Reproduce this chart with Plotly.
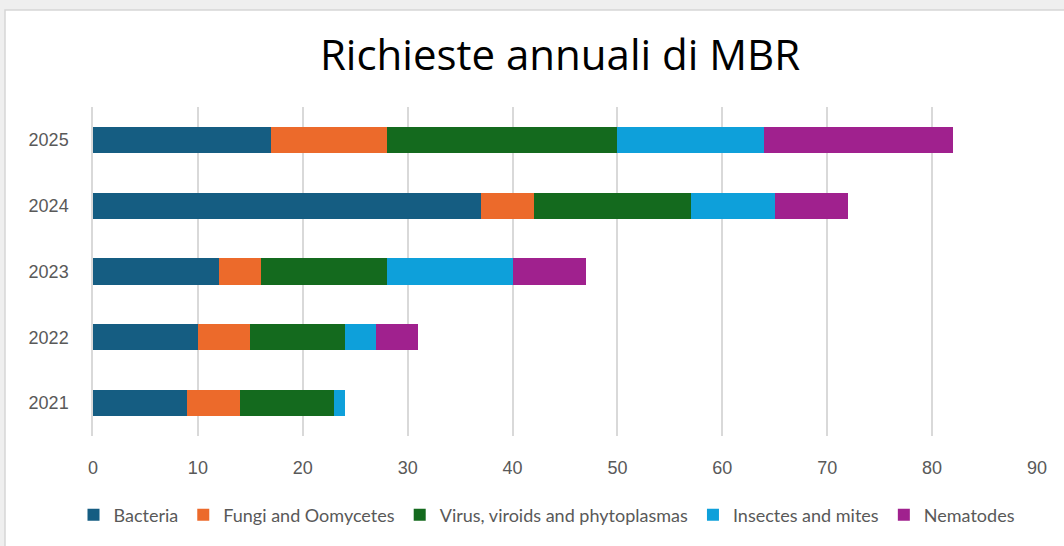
import plotly.graph_objects as go

years = ["2021", "2022", "2023", "2024", "2025"]
bacteria = [9, 10, 12, 37, 17]
fungi = [5, 5, 4, 5, 11]
virus = [9, 9, 12, 15, 22]
insects = [1, 3, 12, 8, 14]
nematodes = [0, 4, 7, 7, 18]

series = [
    ("Bacteria", bacteria, "#155d82"),
    ("Fungi and Oomycetes", fungi, "#ec6a2b"),
    ("Virus, viroids and phytoplasmas", virus, "#146a1e"),
    ("Insectes and mites", insects, "#0ea0da"),
    ("Nematodes", nematodes, "#a0218e"),
]

fig = go.Figure()
for name, vals, col in series:
    fig.add_trace(go.Bar(
        y=years, x=vals, name=name, orientation="h",
        marker=dict(color=col, line=dict(width=0)),
    ))

W, H = 1064, 546
ml, mr, mt, mb = 93, 27, 107, 110
pw, ph = W - ml - mr, H - mt - mb

fig.update_layout(
    width=W, height=H,
    barmode="stack", bargap=0.6,
    margin=dict(l=ml, r=mr, t=mt, b=mb, autoexpand=False),
    paper_bgcolor="#efefef", plot_bgcolor="rgba(0,0,0,0)",
    font=dict(family="Lato, 'Open Sans', sans-serif", color="#595959"),
    title=dict(text="Richieste annuali di MBR", x=560 / W, xanchor="center",
               y=1 - 55 / H, yanchor="middle",
               font=dict(family="'Open Sans', sans-serif", size=42, color="#000000")),
    xaxis=dict(range=[0, 90], dtick=10, showgrid=True, gridcolor="#d9d9d9", gridwidth=1.5,
               zeroline=False, showline=False, automargin=False,
               tickfont=dict(family="'Liberation Sans', Arial, sans-serif", size=18, color="#595959"),
               ticks="", ticklabelstandoff=19),
    yaxis=dict(showgrid=False, showline=True, linecolor="#d9d9d9", linewidth=1.5, automargin=False,
               tickfont=dict(family="'Liberation Sans', Arial, sans-serif", size=18, color="#595959"),
               ticks="", ticklabelstandoff=19),
    legend=dict(orientation="h", x=(547 - ml) / pw, xanchor="center", y=((H - mb) - 515) / ph,
                yanchor="middle", font=dict(size=18, color="#595959"), traceorder="normal",
                itemwidth=30, bgcolor="rgba(0,0,0,0)"),
    shapes=[dict(type="rect", xref="paper", yref="paper", layer="below",
                 x0=(5 - ml) / pw, x1=(W + 20 - ml) / pw,
                 y0=-(mb + 20) / ph, y1=((H - mb) - 10) / ph,
                 fillcolor="white", line=dict(color="#d6d6d6", width=1.5))],
)
fig.write_html("out.html", config={"displayModeBar": False},
               post_script="document.body.style.margin='0px';")
